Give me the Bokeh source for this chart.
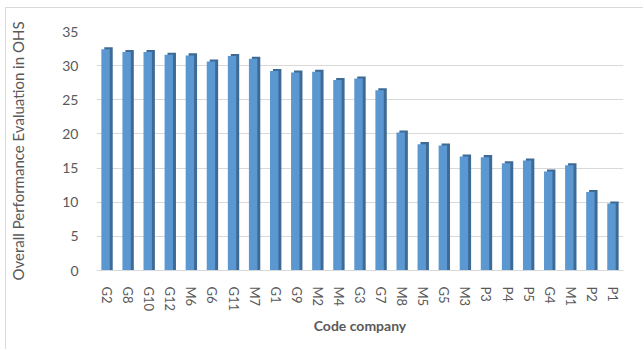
from bokeh.plotting import figure
from bokeh.models import FixedTicker, ColumnDataSource
from bokeh.transform import dodge
from bokeh.embed import file_html
from bokeh.resources import INLINE

companies = ["G2", "G8", "G10", "G12", "M6", "G6", "G11", "M7", "G1", "G9", "M2", "M4", "G3",
             "G7", "M8", "M5", "G5", "M3", "P3", "P4", "P5", "G4", "M1", "P2", "P1"]
scores = [32.4, 32.0, 32.0, 31.6, 31.5, 30.6, 31.4, 31.0, 29.2, 29.0, 29.1, 27.9, 28.1,
          26.4, 20.2, 18.5, 18.3, 16.7, 16.6, 15.7, 16.1, 14.5, 15.4, 11.5, 9.8]
y_ticks = [0, 5, 10, 15, 20, 25, 30, 35]

src = ColumnDataSource(dict(x=companies, y=scores, ytop=[s + 0.3 for s in scores]))

FONT = "Lato"
GRAY = "#595959"

p = figure(x_range=companies, y_range=(0, 35), width=638, height=342,
           output_backend="svg", toolbar_location=None,
           min_border_left=82, min_border_right=21, min_border_top=23, min_border_bottom=80)
p.styles = {"margin-left": "5px", "margin-top": "7px",
            "border-left": "1px solid #D9D9D9", "border-top": "1px solid #D9D9D9"}
p.x_range.range_padding = 0
p.outline_line_color = None
p.background_fill_color = "white"

# 3D-like side + front faces
p.vbar(x=dodge("x", 0.07, range=p.x_range), top="ytop", bottom=0, width=0.4, source=src,
       fill_color="#3E6A96", line_color=None)
p.vbar(x=dodge("x", -0.07, range=p.x_range), top="y", bottom=0, width=0.4, source=src,
       fill_color="#5B97D0", line_color=None)

p.ygrid.grid_line_color = "#D9D9D9"
p.ygrid.grid_line_width = 1
p.xgrid.grid_line_color = None

p.yaxis.ticker = FixedTicker(ticks=y_ticks)
p.yaxis.axis_line_color = None
p.yaxis.major_tick_line_color = None
p.yaxis.minor_tick_line_color = None
p.yaxis.major_label_text_font = FONT
p.yaxis.major_label_text_font_size = "14px"
p.yaxis.major_label_text_color = GRAY
p.yaxis.major_label_standoff = 12
p.yaxis.axis_label = "Overall Performance Evaluation in OHS"
p.yaxis.axis_label_text_font = FONT
p.yaxis.axis_label_text_font_size = "15px"
p.yaxis.axis_label_text_font_style = "normal"
p.yaxis.axis_label_text_color = GRAY
p.yaxis.axis_label_standoff = 32

p.xaxis.axis_line_color = "#D9D9D9"
p.xaxis.major_tick_line_color = None
p.xaxis.minor_tick_line_color = None
p.xaxis.major_label_orientation = "vertical"
p.xaxis.major_label_text_font = FONT
p.xaxis.major_label_text_font_size = "13px"
p.xaxis.major_label_text_color = GRAY
p.xaxis.major_label_standoff = 10
p.xaxis.axis_label = "Code company"
p.xaxis.axis_label_text_font = FONT
p.xaxis.axis_label_text_font_size = "14px"
p.xaxis.axis_label_text_font_style = "bold"
p.xaxis.axis_label_text_color = GRAY
p.xaxis.axis_label_standoff = 3

open("out.html", "w").write(file_html(p, INLINE))
